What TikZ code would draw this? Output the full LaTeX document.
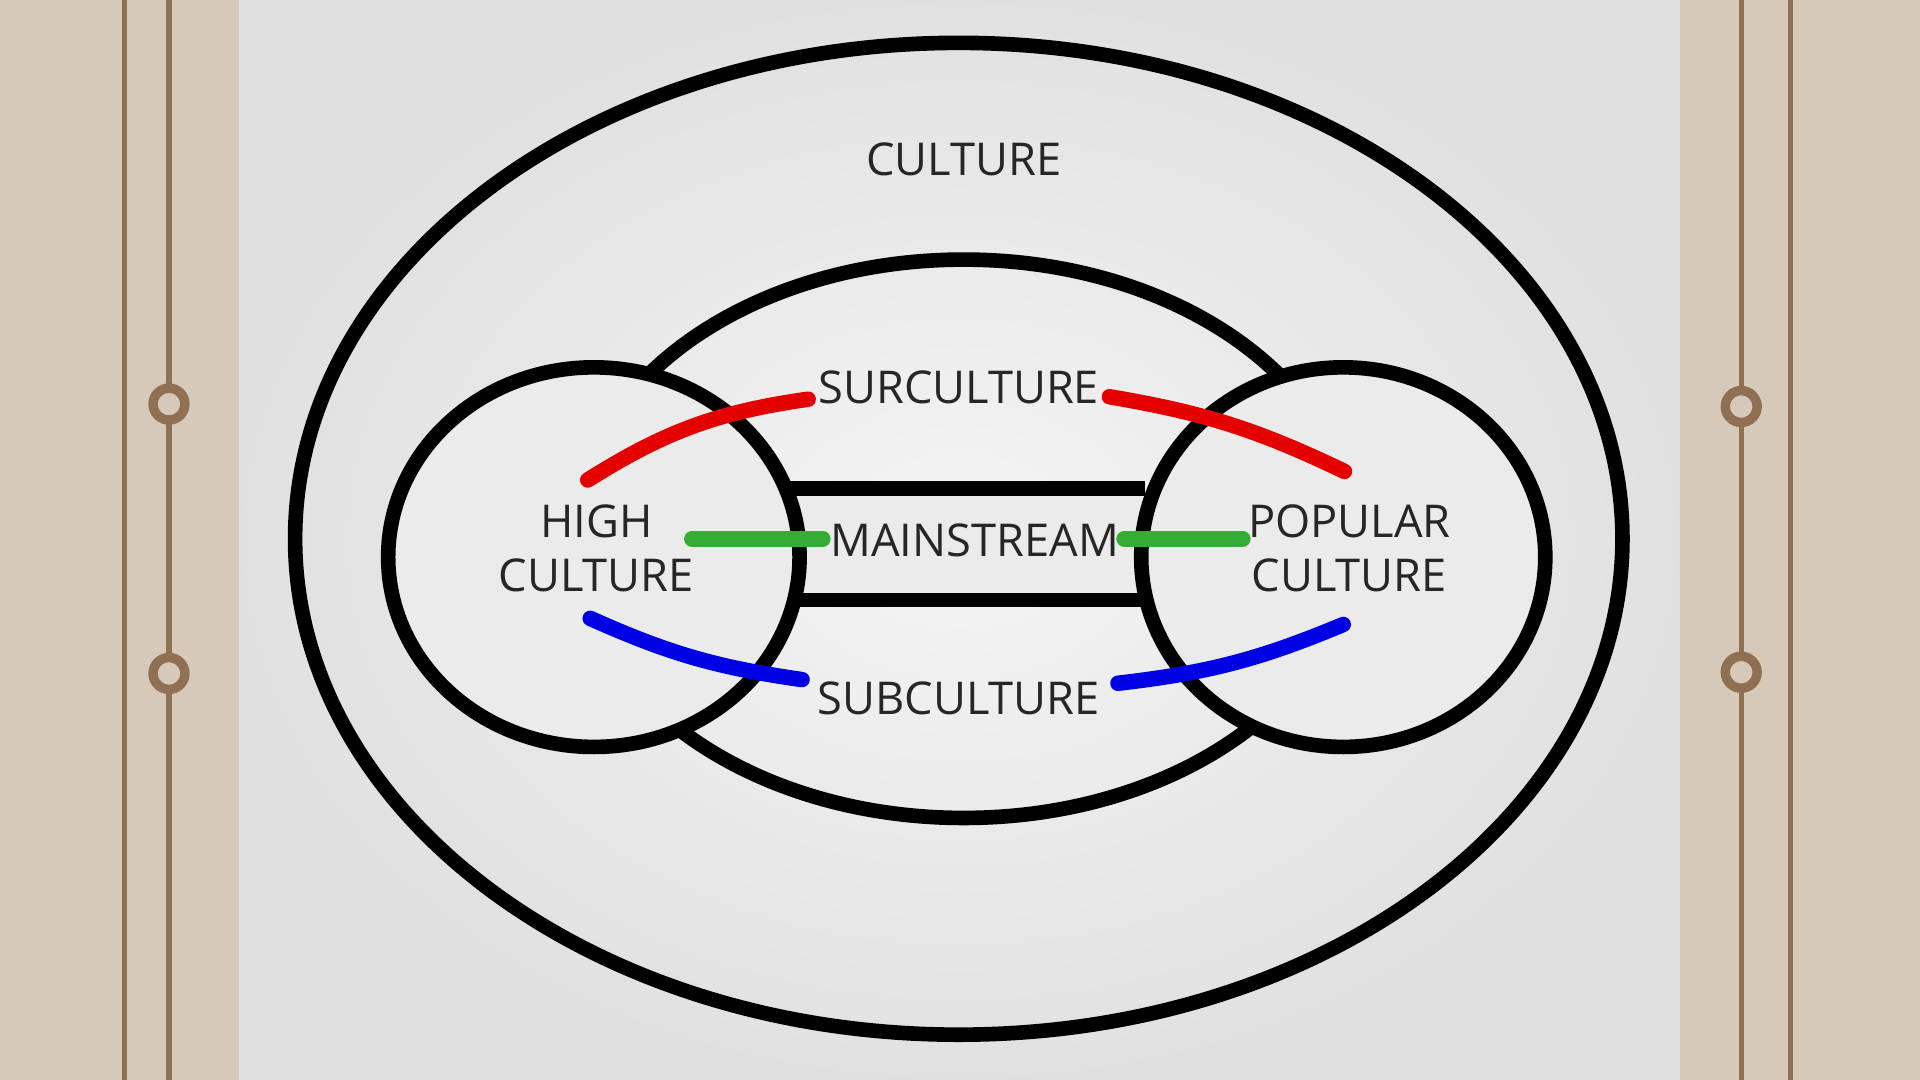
\documentclass[tikz,border=0pt]{standalone}
\usepackage{fontspec}
\setmainfont{Open Sans}
\begin{document}
\begin{tikzpicture}[x=0.01cm,y=-0.01cm,
  ring/.style={line width=3.4pt,draw=black},
  lab/.style={font=\fontsize{10.5}{12.5}\selectfont,text=black!85,align=center},
  hl/.style={line width=3.6pt,line cap=round},
  deco/.style={draw=brown!60!black!80,line width=1.2pt}]
\useasboundingbox (0,0) rectangle (1568,882);
\fill[brown!25!white!90!black] (0,0) rectangle (1568,882);
\shade[inner color=white!96!black,outer color=black!12] (195,0) rectangle (1372,882);
\foreach \x in {102,138,1422,1462} \draw[deco] (\x,0) -- (\x,882);
\foreach \p in {(138,330),(138,550),(1422,332),(1422,549)} {
  \fill[brown!25!white!90!black] \p circle (15);
  \draw[deco,line width=2.2pt] \p circle (13);}
% shapes
\draw[ring] (783,440) ellipse (542 and 405);
\draw[ring] (787,440) ellipse (318 and 228);
\fill[white!92!black] (485,455) ellipse (168 and 155);
\fill[white!92!black] (1097,455) ellipse (165 and 155);
\fill[white!92!black] (648,400) rectangle (932,490);
\draw[ring] (485,455) ellipse (168 and 155);
\draw[ring] (1097,455) ellipse (165 and 155);
\coordinate (mtl) at (645,399); \coordinate (mtr) at (935,399);
\coordinate (mbl) at (648,490); \coordinate (mbr) at (932,490);
\draw[ring] (mtl) -- (mtr);
\draw[ring] (mbl) -- (mbr);
% labels
\node[lab] (cul) at (787,130) {CULTURE};
\node[lab] (sur) at (783,316) {SURCULTURE};
\node[lab] (high) at (487,448) {HIGH\\CULTURE};
\node[lab] (main) at (796,441) {MAINSTREAM};
\node[lab] (pop) at (1102,448) {POPULAR\\CULTURE};
\node[lab] (sub) at (783,570) {SUBCULTURE};
% highlights
\coordinate (r1a) at (480,392); \coordinate (r1b) at (660,326);
\coordinate (r2a) at (906,324); \coordinate (r2b) at (1098,385);
\coordinate (b1a) at (482,505); \coordinate (b1b) at (655,555);
\coordinate (b2a) at (913,558); \coordinate (b2b) at (1097,510);
\coordinate (g1a) at (565,440); \coordinate (g1b) at (672,440);
\coordinate (g2a) at (918,440); \coordinate (g2b) at (1015,440);
\draw[hl,red!90!black] (r1a) to[bend left=12] (r1b);
\draw[hl,red!90!black] (r2a) to[bend left=8] (r2b);
\draw[hl,blue!90!black] (b1a) to[bend right=8] (b1b);
\draw[hl,blue!90!black] (b2a) to[bend right=8] (b2b);
\draw[hl,green!60!black!80!white] (g1a) -- (g1b);
\draw[hl,green!60!black!80!white] (g2a) -- (g2b);
\end{tikzpicture}
\end{document}
